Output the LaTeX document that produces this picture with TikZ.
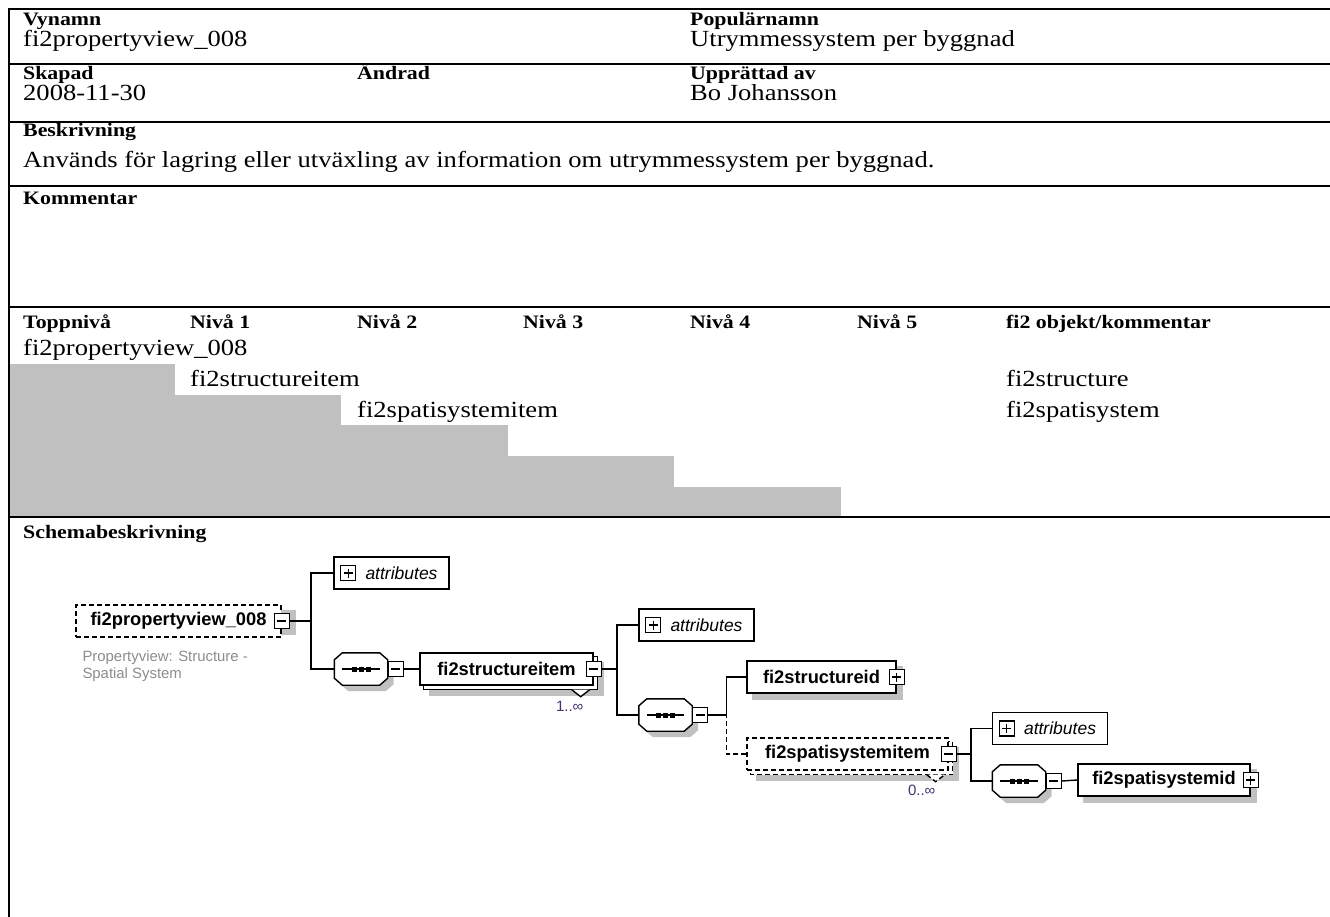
\documentclass[tikz,border=0pt]{standalone}
\usepackage{fontspec}
\setmainfont{Liberation Serif}
\setsansfont{Liberation Sans}
\newfontfamily\tabfont[FakeStretch=1.15]{Liberation Serif}
\usepackage{tikz}
\usetikzlibrary{positioning}
\definecolor{cellgray}{RGB}{192,192,192}
\definecolor{shadegray}{RGB}{192,192,192}
\definecolor{notegray}{RGB}{140,140,140}
\definecolor{occur}{RGB}{70,50,110}
\pgfdeclarelayer{bg}
\pgfsetlayers{bg,main}
\newcommand{\octo}[1]{([xshift=8pt]#1.north west) -- ([xshift=-8pt]#1.north east) -- ([yshift=-7pt]#1.north east) -- ([yshift=7pt]#1.south east) -- ([xshift=-8pt]#1.south east) -- ([xshift=8pt]#1.south west) -- ([yshift=7pt]#1.south west) -- ([yshift=-7pt]#1.north west) -- cycle}
\tikzset{
	rule/.style={line width=2.4pt},
	hdr/.style={anchor=base west, inner sep=0pt, font=\tabfont\bfseries\fontsize{19}{22}\selectfont},
	val/.style={anchor=base west, inner sep=0pt, font=\tabfont\fontsize{23.1}{27}\selectfont},
	link/.style={line width=1.4pt},
	optlink/.style={link, dash pattern=on 5pt off 3pt},
	elem/.style={draw, link, fill=white, minimum height=32pt, inner sep=0pt, font=\sffamily\bfseries\fontsize{18.3}{20}\selectfont},
	optelem/.style={elem, dash pattern=on 5pt off 3pt},
	attrbox/.style={draw, link, fill=white, minimum width=115pt, minimum height=32pt, inner sep=0pt, font=\sffamily\itshape\fontsize{17.5}{20}\selectfont},
	seqbox/.style={minimum width=53pt, minimum height=32pt, inner sep=0pt},
	minus/.style={draw, line width=1.2pt, fill=white, minimum size=15pt, inner sep=0pt,
		path picture={\draw[line width=1.2pt] ([xshift=3pt]path picture bounding box.west) -- ([xshift=-3pt]path picture bounding box.east);}},
	plus/.style={draw, line width=1.2pt, fill=white, minimum size=15pt, inner sep=0pt,
		path picture={\draw[line width=1.2pt] ([xshift=3pt]path picture bounding box.west) -- ([xshift=-3pt]path picture bounding box.east);
			\draw[line width=1.2pt] ([yshift=-3pt]path picture bounding box.north) -- ([yshift=3pt]path picture bounding box.south);}},
	shade/.style={fill=shadegray, draw=none, transform canvas={xshift=#1, yshift=-#1}},
	shade/.default=6pt,
	backcopy/.style={draw, link, fill=white, transform canvas={xshift=4pt, yshift=-4pt}},
	mult/.style={inner sep=0pt, text=occur, font=\sffamily\fontsize{15}{17}\selectfont},
	note/.style={inner sep=0pt, align=left, text=notegray, font=\sffamily\fontsize{14.9}{16.5}\selectfont}
}

\begin{document}
\begin{tikzpicture}[x=1pt,y=-1pt]
	\useasboundingbox (0,0) rectangle (1330,917);

	% grey cells of the level table
	\fill[cellgray] (10,364) rectangle (175,517);
	\fill[cellgray] (175,395) rectangle (341,517);
	\fill[cellgray] (341,425) rectangle (508,517);
	\fill[cellgray] (508,456) rectangle (674,517);
	\fill[cellgray] (674,487) rectangle (841,517);

	% table rules
	\draw[rule] (9,8) -- (9,917);
	\draw[rule] (8,9) -- (1330,9);
	\draw[rule] (8,64) -- (1330,64);
	\draw[rule] (8,122) -- (1330,122);
	\draw[rule] (8,186) -- (1330,186);
	\draw[rule] (8,307) -- (1330,307);
	\draw[rule] (8,517) -- (1330,517);

	% table texts
	\node[hdr] (vyH) at (23,26) {Vynamn};
	\node[val] (vyV) at (23,47) {fi2propertyview\_008};
	\node[hdr] (popH) at (690,26) {Populärnamn};
	\node[val] (popV) at (690,47) {Utrymmessystem per byggnad};
	\node[hdr] (skH) at (23,80) {Skapad};
	\node[val] (skV) at (23,101) {2008-11-30};
	\node[hdr] (andH) at (357,80) {Ändrad};
	\node[hdr] (uppH) at (690,80) {Upprättad av};
	\node[val] (uppV) at (690,101) {Bo Johansson};
	\node[hdr] (beskH) at (23,137) {Beskrivning};
	\node[val] (beskV) at (23,168) {Används för lagring eller utväxling av information om utrymmessystem per byggnad.};
	\node[hdr] (komH) at (23,205) {Kommentar};

	\node[hdr] (lvl0) at (23,328) {Toppnivå};
	\node[hdr] (lvl1) at (190,328) {Nivå 1};
	\node[hdr] (lvl2) at (357,328) {Nivå 2};
	\node[hdr] (lvl3) at (523,328) {Nivå 3};
	\node[hdr] (lvl4) at (690,328) {Nivå 4};
	\node[hdr] (lvl5) at (857,328) {Nivå 5};
	\node[hdr] (objH) at (1006,328) {fi2 objekt/kommentar};
	\node[val] (row0) at (23,355) {fi2propertyview\_008};
	\node[val] (row1) at (190,386) {fi2structureitem};
	\node[val] (row2) at (357,417) {fi2spatisystemitem};
	\node[val] (obj1) at (1006,386) {fi2structure};
	\node[val] (obj2) at (1006,417) {fi2spatisystem};

	\node[hdr] (schH) at (23,538) {Schemabeskrivning};

	% schema diagram
	\node[optelem, minimum width=205pt] (pv) at (178.5,621) {fi2propertyview\_008};
	\node[minus] (pvm) at (pv.east) {};
	\node[note, anchor=north west] (pvnote) at ([xshift=7pt,yshift=-13pt]pv.south west) {Propertyview: Structure -\\Spatial System};

	\node[attrbox] (attrA) at (391.5,573) {\hspace*{20pt}attributes};
	\node[plus] (attrAp) at ([xshift=15pt]attrA.west) {};
	\node[seqbox] (seqA) at (361,669) {};
	\node[minus, anchor=west] (seqAm) at (seqA.east) {};

	\node[elem, minimum width=173pt] (sti) at (506.5,669) {fi2structureitem};
	\node[minus] (stim) at (sti.east) {};
	\node[mult] (stimult) at ([xshift=-24pt,yshift=-21pt]sti.south east) {1..∞};

	\node[attrbox] (attrB) at (696.5,625) {\hspace*{20pt}attributes};
	\node[plus] (attrBp) at ([xshift=15pt]attrB.west) {};
	\node[seqbox] (seqB) at (665.5,715) {};
	\node[minus, anchor=west] (seqBm) at (seqB.east) {};

	\node[elem, minimum width=149pt] (sid) at (821.5,677) {fi2structureid};
	\node[plus] (sidp) at (sid.east) {};

	\node[optelem, minimum width=201pt] (ssi) at (847.5,754) {fi2spatisystemitem};
	\node[minus] (ssim) at (ssi.east) {};
	\node[mult] (ssimult) at ([xshift=-27pt,yshift=-20pt]ssi.south east) {0..∞};

	\node[attrbox] (attrC) at (1050,728.5) {\hspace*{20pt}attributes};
	\node[plus] (attrCp) at ([xshift=15pt]attrC.west) {};
	\node[seqbox] (seqC) at (1019,781) {};
	\node[minus, anchor=west] (seqCm) at (seqC.east) {};

	\node[elem, minimum width=172pt] (spid) at (1164,780) {fi2spatisystemid};
	\node[plus] (spidp) at (spid.east) {};

	% sequence symbols
	\foreach \s in {seqA,seqB,seqC} {
		\draw[link, fill=white] \octo{\s};
		\draw[link] ([xshift=8pt]\s.west) -- ([xshift=-8pt]\s.east);
		\foreach \d in {-7,0,7}
			\fill ([xshift=\d]\s.center) +(-2.5,-2.5) rectangle +(2.5,2.5);
	}

	% occurrence marks
	\draw[link, fill=white] ([xshift=-22pt,yshift=-4pt]sti.south east) -- ++(9,7) -- ++(9,-7);
	\draw[optlink, fill=white] ([xshift=-22pt,yshift=-4pt]ssi.south east) -- ++(9,7) -- ++(9,-7);

	% connectors
	\draw[link] (pvm.east) -- ++(21,0) |- (attrA.west);
	\draw[link] (pvm.east) -- ++(21,0) |- (seqA.west);
	\draw[link] (seqAm.east) -- (sti.west);
	\draw[link] (stim.east) -- ++(15,0) |- (attrB.west);
	\draw[link] (stim.east) -- ++(15,0) |- (seqB.west);
	\draw[link] (seqBm.east) -- ++(18,0) |- (sid.west);
	\draw[optlink] (seqBm.east) -- ++(18,0) |- (ssi.west);
	\draw[link] (ssim.east) -- ++(14,0) |- (attrC.west);
	\draw[link] (ssim.east) -- ++(14,0) |- (seqC.west);
	\draw[link] (seqCm.east) -- (spid.west);

	% shadows and stacked copies
	\begin{pgfonlayer}{bg}
		\fill[shade] (pv.north west) rectangle (pvm.south east);
		\foreach \s in {seqA,seqB,seqC}
			\fill[shade] \octo{\s};
		\fill[shade=10pt] (sti.north west) rectangle (sti.south east);
		\draw[backcopy] (sti.north west) rectangle (sti.south east);
		\fill[shade] (sid.north west) rectangle (sid.south east);
		\fill[shade=10pt] (ssi.north west) rectangle (ssi.south east);
		\draw[backcopy, dash pattern=on 5pt off 3pt] (ssi.north west) rectangle (ssi.south east);
		\fill[shade] (spid.north west) rectangle (spid.south east);
	\end{pgfonlayer}
\end{tikzpicture}
\end{document}
